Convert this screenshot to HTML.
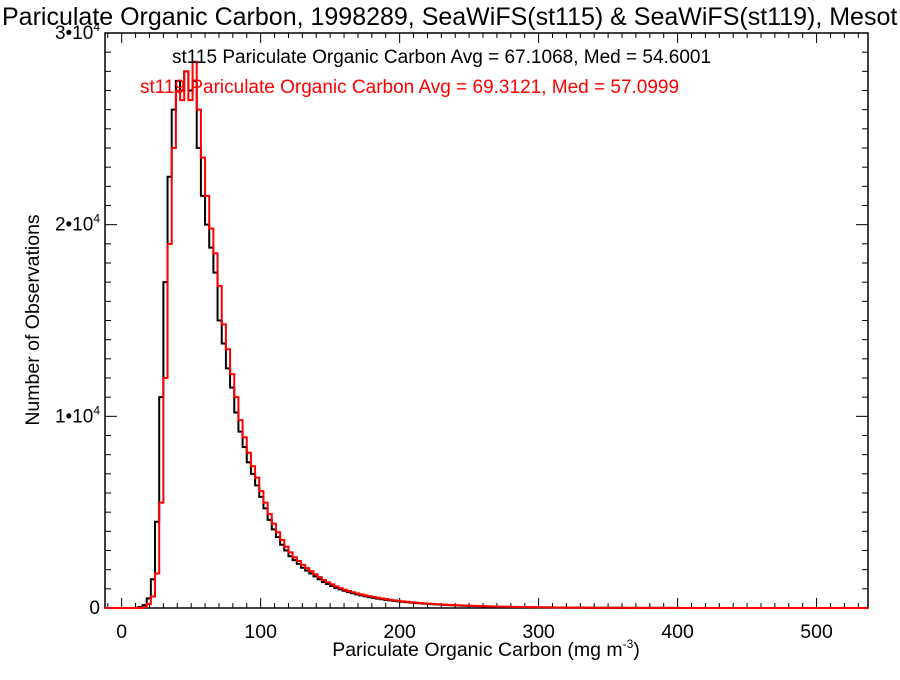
<!DOCTYPE html>
<html><head><meta charset="utf-8"><style>
body{margin:0;background:#fff}
svg{font-family:"Liberation Sans",Arial,sans-serif}
</style></head><body>
<svg id="chart" width="900" height="675">
<text x="2" y="25" font-size="25">Pariculate Organic Carbon, 1998289, SeaWiFS(st115) &amp; SeaWiFS(st119), Mesot</text>
<g id="axes"></g>
<g id="series"></g>
<text x="172" y="63" font-size="19" fill="#000">st115 Pariculate Organic Carbon Avg = 67.1068, Med = 54.6001</text>
<text x="140" y="93" font-size="19" fill="#ff0000">st119 Pariculate Organic Carbon Avg = 69.3121, Med = 57.0999</text>
<text x="486" y="656" font-size="19.5" text-anchor="middle">Pariculate Organic Carbon (mg m<tspan font-size="12" dy="-8">-3</tspan><tspan dy="8">)</tspan></text>
<text transform="translate(39,320) rotate(-90)" font-size="19.5" text-anchor="middle">Number of Observations</text>
</svg>
<script>
const binStart = 0, binWidth = 3;
const st115 = [0,0,0,0,50,150,500,1500,4500,11000,17000,22500,26000,27500,27000,28000,27000,27500,24000,21500,20000,18800,17500,15000,13800,12500,11500,10200,9200,8400,7600,7000,6400,5800,5200,4600,4100,3700,3300,3000,2700,2500,2300,2100,1950,1800,1650,1500,1350,1250,1150,1050,970,900,830,770,710,660,610,570,530,490,455,425,395,370,345,320,300,280,260,245,228,213,200,187,175,164,153,144,135,126,118,110,103,96,90,84,78,73,68,63,59,55,51,48,45,42,39,36,34,32,30,28,26,24,22,21,19,18,17,16,15,14,13,12,11,10,10,9,8,8,7,7,6,6,5,5,5,4,4,4,3,3,3,3,2,2,2,2,2,2,1,1,1,1,1,1,1,1,1,1,0,0,0,0,0,0,0,0,0,0,0,0,0,0,0,0,0,0,0,0,0,0,0,0,0,0,0,0,0];
const st119 = [0,0,0,0,0,50,200,600,1800,5500,12000,19000,24000,27000,26500,28000,26500,28500,26000,23500,21500,19800,18500,16800,14800,13500,12200,11000,9800,8900,8100,7400,6800,6100,5500,4900,4400,3950,3550,3200,2900,2650,2450,2250,2080,1920,1760,1610,1460,1340,1230,1130,1040,960,890,825,765,710,660,615,572,532,495,462,430,400,373,348,325,303,282,263,245,229,214,200,187,175,164,154,144,135,126,118,110,103,96,90,84,79,74,69,64,60,56,52,49,46,43,40,37,35,33,31,29,27,25,23,22,20,19,18,17,16,15,14,13,12,11,11,10,9,9,8,8,7,7,6,6,5,5,5,4,4,4,3,3,3,3,2,2,2,2,2,2,1,1,1,1,1,1,1,1,1,0,0,0,0,0,0,0,0,0,0,0,0,0,0,0,0,0,0,0,0,0,0,0,0,0,0,0,0];
const xTicks = [0,100,200,300,400,500];
const yTicks = [0,10000,20000,30000];

const L=105,R=868,T=33,B=608,XMIN=-12,XMAX=537,YMAX=30000;
const sx=v=>L+(v-XMIN)/(XMAX-XMIN)*(R-L);
const sy=v=>B-v/YMAX*(B-T);
const NS="http://www.w3.org/2000/svg";
function mk(tag,attrs,parent){const e=document.createElementNS(NS,tag);for(const k in attrs)e.setAttribute(k,attrs[k]);parent.appendChild(e);return e;}
const axes=document.getElementById('axes'), ser=document.getElementById('series');
const frame=mk('rect',{x:L,y:T,width:R-L,height:B-T,fill:'none',stroke:'#000','stroke-width':1.5},axes);


for(let v=-10;v<=XMAX;v+=10){
  const x=sx(v), len=(v%100===0)?10:5;
  mk('line',{x1:x,y1:B,x2:x,y2:B-len,stroke:'#000'},axes);
  mk('line',{x1:x,y1:T,x2:x,y2:T+len,stroke:'#000'},axes);
}
xTicks.forEach(v=>{
  const t=mk('text',{x:sx(v),y:B+30,'font-size':19.5,'text-anchor':'middle'},axes);
  t.textContent=v;
  
  
});
for(let v=0;v<=YMAX;v+=1000){
  const y=sy(v), len=(v%10000===0)?12:6;
  mk('line',{x1:L,y1:y,x2:L+len,y2:y,stroke:'#000'},axes);
  mk('line',{x1:R,y1:y,x2:R-len,y2:y,stroke:'#000'},axes);
}
yTicks.forEach(v=>{
  const t=mk('text',{x:L-5,y:sy(v)+6,'font-size':19,'text-anchor':'end'},axes);
  if(v===0){t.textContent='0';}
  else{t.textContent=(v/10000)+'•10';const s=mk('tspan',{'font-size':12,dy:-8},t);s.textContent='4';}
  
  
});
function step(data,color,name){
  let d='M'+sx(XMIN)+','+sy(0);
  for(let i=0;i<data.length;i++){
    const x0=Math.max(XMIN,binStart+i*binWidth), x1=Math.min(XMAX,binStart+(i+1)*binWidth);
    if(x1<=x0)continue;
    d+=' L'+sx(x0).toFixed(2)+','+sy(data[i]).toFixed(2)+' L'+sx(x1).toFixed(2)+','+sy(data[i]).toFixed(2);
  }
  const p=mk('path',{d:d,fill:'none',stroke:color,'stroke-width':2},ser);
  
  
}
step(st115,'#000','st115-histogram');
step(st119,'#ff0000','st119-histogram');
</script>
</body></html>
